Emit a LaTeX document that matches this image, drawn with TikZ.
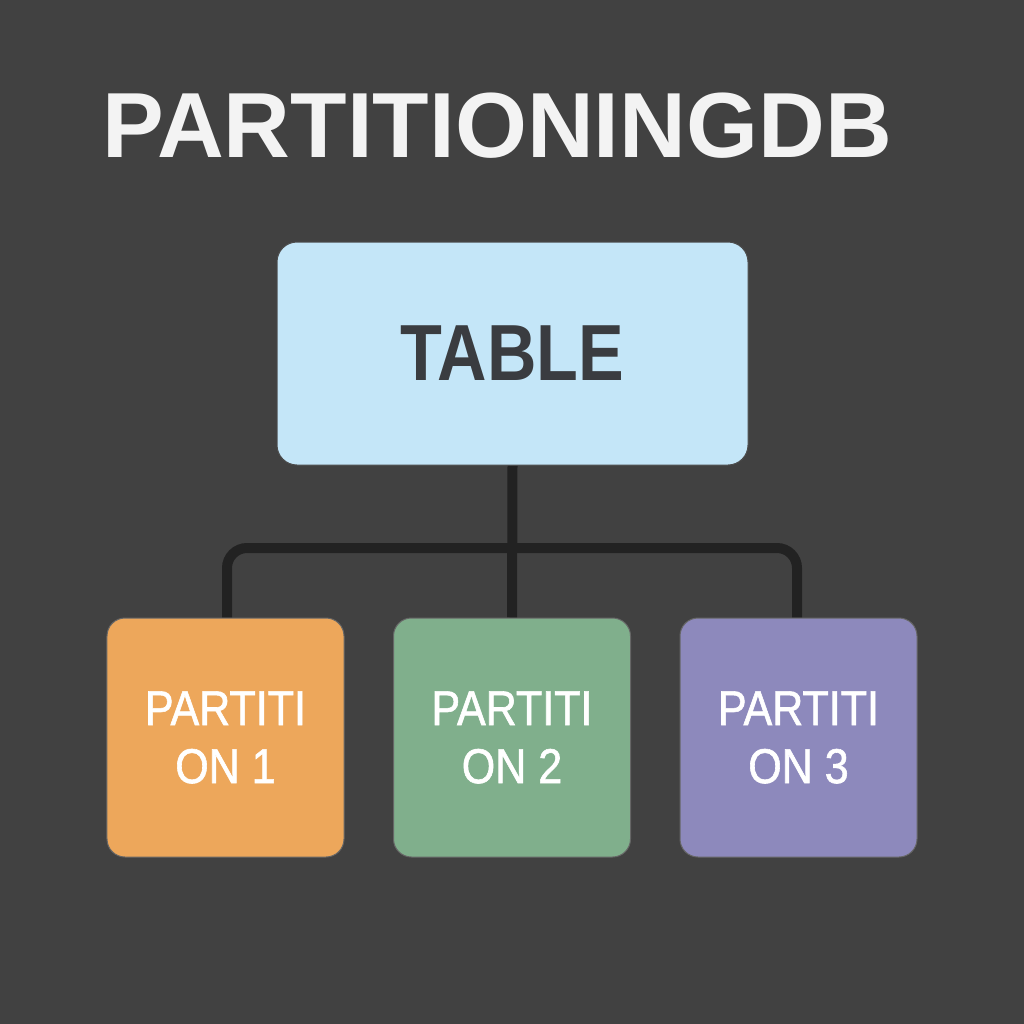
\documentclass[tikz,border=0pt]{standalone}
\usepackage{fontspec}
\setmainfont{Liberation Sans}
\newfontfamily\titlefont{Liberation Sans}
\newfontfamily\narrowfont{Liberation Sans}[FakeStretch=0.86]
\newfontfamily\partfont{Liberation Sans}[FakeStretch=0.88,FakeBold=1.2]
\pgfdeclarelayer{backfill}
\pgfdeclarelayer{wires}
\pgfsetlayers{backfill,wires,main}
\definecolor{bg}{HTML}{414141}
\definecolor{tablefill}{HTML}{C4E6F8}
\definecolor{tabletext}{HTML}{3A3C40}
\definecolor{orangefill}{HTML}{EDA75B}
\definecolor{greenfill}{HTML}{80AF8C}
\definecolor{purplefill}{HTML}{8D89BC}
\definecolor{wire}{HTML}{222222}
\definecolor{titlecol}{HTML}{F3F3F3}
\tikzset{
  tablebox/.style={draw=black!70, line width=1bp, fill=tablefill, rounded corners=20bp,
    minimum width=471bp, minimum height=223bp, inner sep=0pt,
    font=\narrowfont\bfseries\fontsize{79.6bp}{80bp}\selectfont, text=tabletext},
  partbox/.style={draw=black!60, line width=1bp, rounded corners=18bp,
    minimum width=237bp, minimum height=239bp, inner sep=0pt, align=center,
    font=\partfont\fontsize{48.9bp}{58bp}\selectfont, text=white},
  wireline/.style={draw=wire, line width=10bp, rounded corners=20bp}
}
\begin{document}
\begin{tikzpicture}[x=1bp,y=-1bp]
  \begin{pgfonlayer}{backfill}
    \fill[bg] (0,0) rectangle (1024,1024);
  \end{pgfonlayer}
  \useasboundingbox (0,0) rectangle (1024,1024);
  \node[anchor=base west, inner sep=0pt, text=titlecol,
        font=\titlefont\bfseries\fontsize{92.5bp}{93bp}\selectfont] (title) at (102,157) {PARTITIONINGDB};
  \node[tablebox] (table) at (512.5,353.5) {TABLE};
  \node[partbox, fill=orangefill] (p1) at (225.5,737.5) {PARTITI\\ON 1};
  \node[partbox, fill=greenfill] (p2) at (512,737.5) {PARTITI\\ON 2};
  \node[partbox, fill=purplefill] (p3) at (798.5,737.5) {PARTITI\\ON 3};
  \coordinate (hub) at (512,548);
  \begin{pgfonlayer}{wires}
    \draw[wireline] (table.south) -- (p2.north);
    \draw[wireline] (p1.north -| 227,0) |- (hub) -| (p3.north -| 797,0);
  \end{pgfonlayer}
\end{tikzpicture}
\end{document}
